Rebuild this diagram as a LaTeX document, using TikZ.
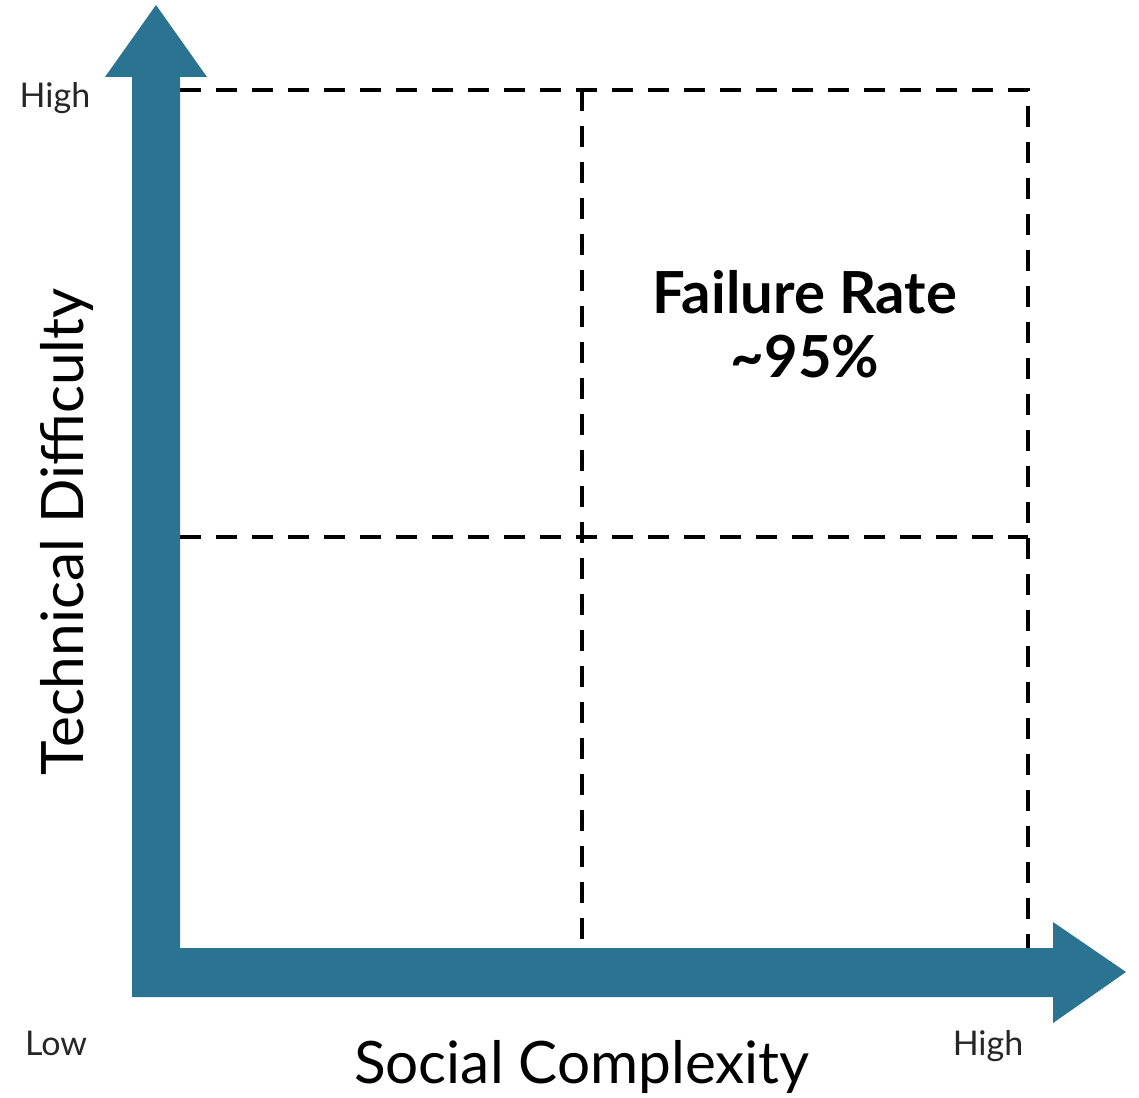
\documentclass[tikz,border=0pt]{standalone}
\usepackage{fontspec}
\setmainfont{Lato}
\usetikzlibrary{calc}
\definecolor{axisblue}{HTML}{2A7491}

\begin{document}
\begin{tikzpicture}[x=1pt, y=-1pt,
    gridline/.style={draw=black, line width=3.5pt, dash pattern=on 21pt off 15pt},
    axistext/.style={inner sep=0pt, anchor=base, font=\fontsize{58.5}{64}\selectfont},
    ticktext/.style={inner sep=0pt, anchor=base, font=\fontsize{34}{38}\selectfont, text=black!85},
    ratetext/.style={inner sep=0pt, anchor=base, font=\fontsize{58}{64}\selectfont\bfseries}]
    \useasboundingbox (0,0) rectangle (1139,1097);

    % axes
    \fill[axisblue] (132,997) -- (132,77) -- (105,77) -- (156,5) -- (207,77) -- (180,77)
        -- (180,948) -- (1053,948) -- (1053,922) -- (1126,972) -- (1053,1023) -- (1053,997) -- cycle;

    % quadrant corners
    \coordinate (tl) at (180,90);
    \coordinate (tm) at (582,90);
    \coordinate (tr) at (1028,90);
    \coordinate (ml) at (180,537);
    \coordinate (mr) at (1028,537);
    \coordinate (bm) at (582,948);
    \coordinate (br) at (1028,948);

    \draw[gridline] (tl) -- (tr) -- (br);
    \draw[gridline] (tm) -- (bm);
    \draw[gridline] (ml) -- (mr);

    % labels
    \node[axistext, rotate=90] (ylabel) at (83,532) {Technical Difficulty};
    \node[axistext] (xlabel) at (582,1083) {Social Complexity};
    \node[ticktext] (yhigh) at (55,107) {High};
    \node[ticktext] (xlow) at (56,1055) {Low};
    \node[ticktext] (xhigh) at (988,1055) {High};

    \node[ratetext] (rate) at (805,313) {Failure Rate};
    \node[ratetext] (pct) at (805,377) {\textasciitilde 95\%};
\end{tikzpicture}
\end{document}
